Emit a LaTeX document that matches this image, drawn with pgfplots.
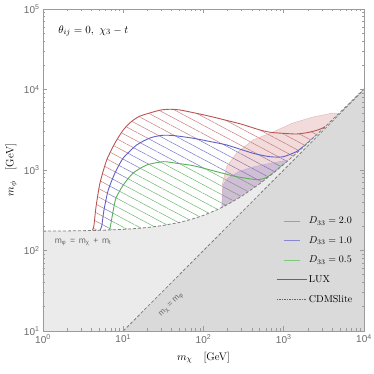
\documentclass[border=0pt]{standalone}
\usepackage{pgfplots}
\pgfplotsset{compat=1.18}
\usetikzlibrary{patterns.meta}
\usepackage{fontspec}
\setsansfont{Liberation Sans}

\definecolor{cred}{RGB}{185,85,85}
\definecolor{cblue}{RGB}{95,95,200}
\definecolor{cgreen}{RGB}{90,175,90}
\definecolor{hred}{RGB}{205,125,125}
\definecolor{hblue}{RGB}{120,120,205}
\definecolor{hgreen}{RGB}{110,185,110}
\definecolor{lred}{RGB}{215,135,135}
\definecolor{lblue}{RGB}{135,135,210}
\definecolor{lgreen}{RGB}{125,200,125}
\definecolor{lgray}{RGB}{235,235,235}
\definecolor{dgray}{RGB}{218,218,218}
\definecolor{axgray}{RGB}{155,155,155}
\definecolor{txtgray}{RGB}{105,105,105}

\tikzset{hatch/.style={pattern={Lines[angle=-28,distance=7.5pt,line width=0.5pt]}}}
\pgfplotsset{
  shortleg/.style={legend image code/.code={\draw[##1] (-8pt,0pt) -- (8pt,0pt);}},
  longleg/.style={legend image code/.code={\draw[##1] (-15pt,0pt) -- (15pt,0pt);}},
}

\begin{document}
\begin{tikzpicture}
\begin{axis}[
  name=ax,
  scale only axis, width=321pt, height=322pt,
  xmode=log, ymode=log,
  xmin=1, xmax=10000, ymin=10, ymax=100000,
  axis on top,
  tick align=inside,
  major tick length=4.5pt, minor tick length=2.5pt,
  tick style={axgray, line width=0.6pt},
  axis line style={axgray, line width=0.8pt},
  xtick={1,10,100,1000,10000},
  xticklabels={10\textsuperscript{0},10\textsuperscript{1},10\textsuperscript{2},10\textsuperscript{3},10\textsuperscript{4}},
  ytick={10,100,1000,10000,100000},
  yticklabels={10\textsuperscript{1},10\textsuperscript{2},10\textsuperscript{3},10\textsuperscript{4},10\textsuperscript{5}},
  minor xtick={2,3,4,5,6,7,8,9,20,30,40,50,60,70,80,90,200,300,400,500,600,700,800,900,2000,3000,4000,5000,6000,7000,8000,9000},
  minor ytick={20,30,40,50,60,70,80,90,200,300,400,500,600,700,800,900,2000,3000,4000,5000,6000,7000,8000,9000,20000,30000,40000,50000,60000,70000,80000,90000},
  ticklabel style={font=\sffamily\fontsize{10}{10}\selectfont, text=txtgray},
  xlabel={$m_\chi$\quad[GeV]}, ylabel={$m_\phi$\quad[GeV]},
  label style={font=\fontsize{11}{11}\selectfont},
  xlabel style={yshift=-2pt},
  legend cell align=left,
  legend style={draw=none, fill=none, at={(rel axis cs:0.98,0.072)}, anchor=south east,
    font=\fontsize{10}{10}\selectfont, row sep=7.2pt},
]

% hatched regions
\addplot[forget plot, draw=none, hatch, pattern color=hred] coordinates {
(4.1,177) (4.3,200) (4.58,350) (5.13,690) (6.22,1331) (7.89,2163) (10,3140) (12.5,3960)
(16,4650) (23.5,5250) (30,5580) (38,5680) (50,5580) (75,5150) (120,4650) (200,4100)
(300,3700) (506,3140) (700,2930) (1000,2850) (1450,2800) (2000,2920) (2600,3120)
(3000,3300) (3300,3473)} \closedcycle;

\addplot[forget plot, draw=none, fill=white, postaction={hatch, pattern color=hblue}] coordinates {
(5.13,178) (5.39,200) (5.75,318) (6.51,565) (7.89,918) (10,1409) (14.7,2045) (21.5,2498)
(30,2690) (42,2680) (75,2476) (120,2259) (194.5,2045) (418,1611) (674,1462) (987,1462)
(1450,1700) (1900,2090) (2450,2623)} \closedcycle;

\addplot[forget plot, draw=none, fill=white, postaction={hatch, pattern color=hgreen}] coordinates {
(6.51,179.5) (6.84,190) (7.52,318) (8.12,449) (10,651) (13.3,918) (19.6,1153) (31.6,1268)
(46.4,1211) (74.6,1131) (146,953) (259,826) (460,760) (600,800) (750,930) (900,1085)
(1050,1225)} \closedcycle;

% LUX-like shaded regions
\addplot[forget plot, draw={rgb,255:red,225;green,180;blue,180}, line width=0.4pt,
  fill={rgb,255:red,200;green,110;blue,110}, fill opacity=0.25] coordinates {
(168.6,341.6) (173.5,690) (194.5,1102) (259,1626) (414,2360) (735,2965) (1304,3837)
(2314,4550) (4110,5105) (4800,4973) (3000,3173) (2000,2173) (1000,1173) (500,673)
(300,473) (168.6,341.6)} -- cycle;

\addplot[forget plot, draw={rgb,255:red,190;green,170;blue,210}, line width=0.4pt,
  fill={rgb,255:red,110;green,110;blue,200}, fill opacity=0.25] coordinates {
(171,344) (175,651) (202,796) (285,972) (414,1089) (618,1188) (898,1275) (1150,1323)
(1000,1173) (500,673) (300,473) (171,344)} -- cycle;

% boundary curves
\addplot[forget plot, cred, line width=0.9pt, smooth, tension=0.4] coordinates {
(4.1,177) (4.3,200) (4.58,350) (5.13,690) (6.22,1331) (7.89,2163) (10,3140) (12.5,3960)
(16,4650) (23.5,5250) (30,5580) (38,5680) (50,5580) (75,5150) (120,4650) (200,4100)
(300,3700) (506,3140) (700,2930) (1000,2850) (1450,2800) (2000,2920) (2600,3120)
(3000,3300) (3300,3473)};

\addplot[forget plot, cblue, line width=0.9pt, smooth, tension=0.4] coordinates {
(5.13,178) (5.39,200) (5.75,318) (6.51,565) (7.89,918) (10,1409) (14.7,2045) (21.5,2498)
(30,2690) (42,2680) (75,2476) (120,2259) (194.5,2045) (418,1611) (674,1462) (987,1462)
(1450,1700) (1900,2090) (2450,2623)};

\addplot[forget plot, cgreen, line width=0.9pt, smooth, tension=0.4] coordinates {
(6.51,179.5) (6.84,190) (7.52,318) (8.12,449) (10,651) (13.3,918) (19.6,1153) (31.6,1268)
(46.4,1211) (74.6,1131) (146,953) (259,826) (460,760) (600,800) (750,930) (900,1085)
(1050,1225)};

% kinematically forbidden regions
\addplot[forget plot, draw=none, fill=lgray] coordinates {
(1,10) (1,174) (2,175) (3,176) (5,178) (7,180) (10,183) (15,188) (20,193) (30,203)
(50,223) (70,243) (100,273) (150,323) (200,373) (300,473) (500,673) (700,873)
(1000,1173) (1500,1673) (2000,2173) (3000,3173) (5000,5173) (7000,7173) (10000,10173)
(10000,10)} -- cycle;

\addplot[forget plot, draw=none, fill=dgray] coordinates {
(10,10) (10000,10000) (10000,10)} -- cycle;

\addplot[forget plot, gray, line width=0.8pt, dash pattern=on 3pt off 2pt] coordinates {
(1,174) (2,175) (3,176) (5,178) (7,180) (10,183) (15,188) (20,193) (30,203)
(50,223) (70,243) (100,273) (150,323) (200,373) (300,473) (500,673) (700,873)
(1000,1173) (1500,1673) (2000,2173) (3000,3173) (5000,5173) (7000,7173) (10000,10173)};

\addplot[forget plot, gray, line width=0.8pt, dash pattern=on 3pt off 2pt] coordinates {
(10,10) (10000,10000)};

% legend
\addlegendimage{shortleg, lred, line width=1pt}
\addlegendentry{$D_{33}=2.0$}
\addlegendimage{shortleg, lblue, line width=1pt}
\addlegendentry{$D_{33}=1.0$}
\addlegendimage{shortleg, lgreen, line width=1pt}
\addlegendentry{$D_{33}=0.5$}
\addlegendimage{longleg, black!60, line width=0.8pt}
\addlegendentry{LUX}
\addlegendimage{longleg, black!60, line width=0.6pt, dash pattern=on 1.5pt off 1pt}
\addlegendentry{CDMSlite}

% annotations
\node[anchor=west, font=\fontsize{11}{11}\selectfont] at (rel axis cs:0.037,0.932)
  {$\theta_{ij}=0,\ \chi_3-t$};
\node[anchor=west, font=\sffamily\fontsize{8.5}{8.5}\selectfont, text=txtgray] at (rel axis cs:0.026,0.276)
  {m\textsubscript{φ}\, =\, m\textsubscript{χ}\, +\, m\textsubscript{t}};
\node[rotate=45, font=\sffamily\fontsize{8}{8}\selectfont, text=txtgray] at (rel axis cs:0.40,0.082)
  {m\textsubscript{χ} = m\textsubscript{φ}};
\end{axis}
\pgfresetboundingbox
\path ([shift={(-43pt,-43pt)}]ax.south west) rectangle ([shift={(10pt,9pt)}]ax.north east);
\end{tikzpicture}
\end{document}
